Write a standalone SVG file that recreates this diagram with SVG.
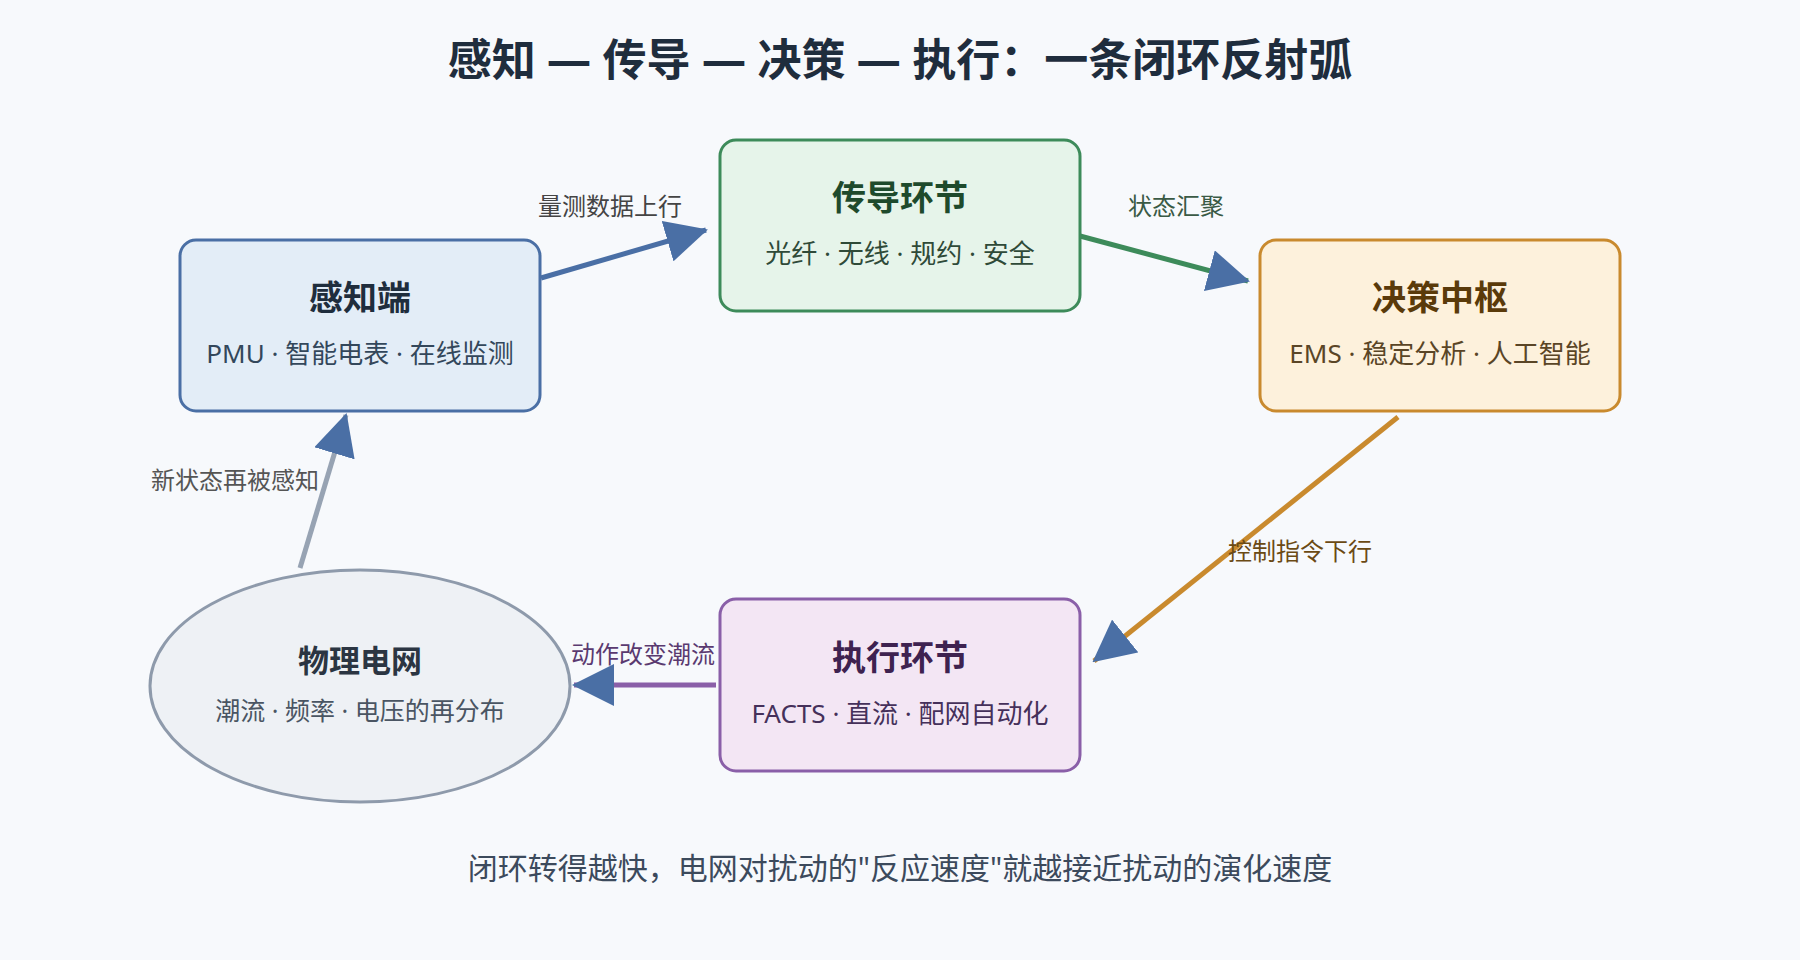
<svg xmlns="http://www.w3.org/2000/svg" width="1800" height="960" viewBox="0 0 1800 960">
<style>
text{font-family:"Noto Sans","Noto Sans CJK SC",sans-serif;text-anchor:middle}
.t{font-size:34px;font-weight:bold}
.s{font-size:26px}
.l{font-size:24px}
.c{fill:none;stroke-width:5}
</style>
<defs>
<marker id="a" markerUnits="userSpaceOnUse" markerWidth="42" markerHeight="42" refX="40" refY="21" orient="auto" viewBox="0 0 42 42">
<path d="M0,0 L42,21 L0,42 Z" fill="#4a6fa5"/>
</marker>
</defs>
<rect width="1800" height="960" fill="#f7f9fc"/>
<text x="900" y="76" style="font-size:44px;font-weight:bold" fill="#1f2d3d">感知 — 传导 — 决策 — 执行：一条闭环反射弧</text>
<g id="connectors">
<line class="c" x1="541" y1="278" x2="706" y2="230" stroke="#4a6fa5" marker-end="url(#a)"/>
<text class="l" x="610" y="215" fill="#444">量测数据上行</text>
<line class="c" x1="1080" y1="236" x2="1248" y2="281" stroke="#3d8b5a" marker-end="url(#a)"/>
<text class="l" x="1176" y="215" fill="#3a5a45">状态汇聚</text>
<line class="c" x1="1398" y1="417" x2="1094" y2="661" stroke="#c98a2e" marker-end="url(#a)"/>
<text class="l" x="1300" y="560" fill="#6b4a14">控制指令下行</text>
<line class="c" x1="716" y1="685" x2="574" y2="685" stroke="#8a5fa8" marker-end="url(#a)"/>
<text class="l" x="643" y="663" fill="#5a3a70">动作改变潮流</text>
<line class="c" x1="300" y1="568" x2="346" y2="415" stroke="#97a3b3" marker-end="url(#a)"/>
<text class="l" x="235" y="489" fill="#555">新状态再被感知</text>
</g>
<g id="perception">
<rect x="180" y="240" width="360" height="171" rx="16" fill="#e3edf7" stroke="#4a6fa5" stroke-width="3"/>
<text class="t" x="360" y="310" fill="#1f2d3d">感知端</text>
<text class="s" x="360" y="363" fill="#33475b">PMU · 智能电表 · 在线监测</text>
</g>
<g id="transmission">
<rect x="720" y="140" width="360" height="171" rx="16" fill="#e6f4ea" stroke="#3d8b5a" stroke-width="3"/>
<text class="t" x="900" y="210" fill="#1e4a2c">传导环节</text>
<text class="s" x="900" y="263" fill="#2f4a38">光纤 · 无线 · 规约 · 安全</text>
</g>
<g id="decision">
<rect x="1260" y="240" width="360" height="171" rx="16" fill="#fdf1dc" stroke="#c98a2e" stroke-width="3"/>
<text class="t" x="1440" y="310" fill="#5a3a0a">决策中枢</text>
<text class="s" x="1440" y="363" fill="#5a4526">EMS · 稳定分析 · 人工智能</text>
</g>
<g id="execution">
<rect x="720" y="599" width="360" height="172" rx="16" fill="#f3e6f4" stroke="#8a5fa8" stroke-width="3"/>
<text class="t" x="900" y="670" fill="#3e2250">执行环节</text>
<text class="s" x="900" y="723" fill="#45305a">FACTS · 直流 · 配网自动化</text>
</g>
<g id="grid">
<ellipse cx="360" cy="686" rx="210" ry="116" fill="#eef1f5" stroke="#8e9aab" stroke-width="3"/>
<text class="t" x="360" y="672" style="font-size:31px" fill="#2b3542">物理电网</text>
<text class="s" x="360" y="720" style="font-size:25px" fill="#4a5563">潮流 · 频率 · 电压的再分布</text>
</g>
<text x="900" y="879" style="font-size:30px" fill="#3c4a5c">闭环转得越快，电网对扰动的"反应速度"就越接近扰动的演化速度</text>
</svg>
